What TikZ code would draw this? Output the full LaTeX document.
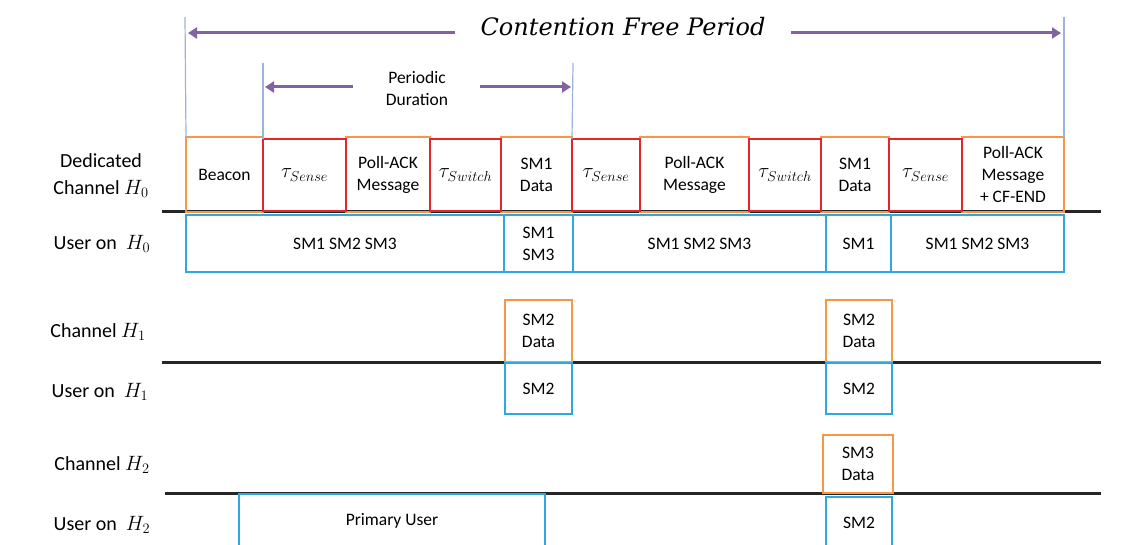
\documentclass[tikz,border=0pt]{standalone}
\usepackage{fontspec}
\setmainfont{Carlito}
\newfontfamily\cfpfont{DejaVu Serif}
\usepackage{tikz}
\usetikzlibrary{arrows.meta}
\definecolor{slotorange}{HTML}{F79646}
\definecolor{slotred}{HTML}{E3262B}
\definecolor{userblue}{HTML}{2EA8E0}
\definecolor{spanpurple}{HTML}{8064A2}
\definecolor{guideblue}{HTML}{9DB3DB}
\newcommand{\bxs}{\fontsize{17.5}{22}\selectfont}
\newcommand{\lbs}{\fontsize{20}{27}\selectfont}
\newcommand{\tas}{\fontsize{20}{24}\selectfont}
\newcommand{\cfs}{\cfpfont\itshape\fontsize{24}{28}\selectfont}

\begin{document}
\begin{tikzpicture}[x=1pt, y=-1pt, inner sep=0pt, outer sep=0pt,
    span/.style={spanpurple, line width=3pt, -{Triangle[length=9pt, width=11pt]}},
    axis/.style={line width=3pt, black!85}]
    \path[use as bounding box, clip] (0,0) rectangle (1138,545);

    \foreach \y/\a/\b in {212/162/1101, 362/162/1101, 493/165/1101} {
      \coordinate (L\y) at (\a,\y);
      \coordinate (R\y) at (\b,\y);
      \draw[axis] (L\y) -- (R\y);
    }

    \foreach \n/\a/\b/\t in {bc/186/263/Beacon, pa/346/430/{Poll-ACK\\Message},
                             da/501/572/{SM1\\Data}, pb/640/749/{Poll-ACK\\Message},
                             db/821/889/{SM1\\Data}, pe/962/1064/{Poll-ACK\\Message\\+ CF-END}} {
      \node[draw=slotorange, line width=2pt, minimum width={\b-\a}, minimum height=75,
            align=center, font=\bxs] (\n) at ({(\a+\b)/2},174.5) {\t};
    }
    \foreach \n/\a/\b/\t in {sa/263/346/Sense, wa/430/501/Switch, sb/572/640/Sense,
                             wb/749/821/Switch, sc/889/962/Sense} {
      \node[draw=slotred, line width=2.6pt, minimum width={\b-\a}, minimum height=72,
            font=\tas] (\n) at ({(\a+\b)/2},175) {$\tau_{\t}$};
    }
    \foreach \n/\a/\b/\t in {ua/186/504/SM1 SM2 SM3, ub/504/573/{SM1\\SM3},
                             uc/573/826/SM1 SM2 SM3, ud/826/891/SM1, ue/891/1064/SM1 SM2 SM3} {
      \node[draw=userblue, line width=2pt, minimum width={\b-\a}, minimum height=57,
            align=center, font=\bxs] (\n) at ({(\a+\b)/2},243.5) {\t};
    }

    \node[draw=slotorange, line width=2pt, minimum width=67, minimum height=62,
          align=center, font=\bxs] (ca) at (538.5,331) {SM2\\Data};
    \node[draw=slotorange, line width=2pt, minimum width=66, minimum height=62,
          align=center, font=\bxs] (cb) at (859,331) {SM2\\Data};
    \node[draw=userblue, line width=2pt, minimum width=67, minimum height=51,
          font=\bxs] (va) at (538.5,388.5) {SM2};
    \node[draw=userblue, line width=2pt, minimum width=66, minimum height=51,
          font=\bxs] (vb) at (859,388.5) {SM2};
    \node[draw=slotorange, line width=2pt, minimum width=70, minimum height=58,
          align=center, font=\bxs] (cc) at (858,464) {SM3\\Data};
    \node[draw=userblue, line width=2pt, minimum width=306, minimum height=66,
          font=\bxs] (pu) at (392,527) {};
    \node[font=\bxs] at (392,521) {Primary User};
    \node[draw=userblue, line width=2pt, minimum width=66, minimum height=66,
          font=\bxs] (vc) at (859,530) {};
    \node[font=\bxs] at (859,523) {SM2};

    \node[font=\lbs, align=center] (dc) at (101,176) {Dedicated\\Channel $H_0$};
    \node[font=\lbs] (u0) at (102,244) {User on \ $H_0$};
    \node[font=\lbs] (c1) at (98,332) {Channel $H_1$};
    \node[font=\lbs] (u1) at (100,392) {User on \ $H_1$};
    \node[font=\lbs] (c2) at (102,465) {Channel $H_2$};
    \node[font=\lbs] (u2) at (102,525) {User on \ $H_2$};

    \coordinate (ga) at (185,17);
    \coordinate (gb) at (1064,17);
    \coordinate (gc) at (263,63);
    \coordinate (gd) at (573,63);
    \draw[guideblue, line width=1.2pt] (ga) -- (bc.north west);
    \draw[guideblue, line width=1.2pt] (gb) -- (pe.north east);
    \draw[guideblue, line width=1.2pt] (gc) -- (sa.north west);
    \draw[guideblue, line width=1.2pt] (gd) -- (sb.north west);

    \node[font=\cfs] (cfp) at (623,27) {Contention Free Period};
    \coordinate (cl) at (188,33);
    \coordinate (cr) at (1061,33);
    \draw[span] ([xshift=-26pt]cfp.west |- cl) -- (cl);
    \draw[span] ([xshift=26pt]cfp.east |- cr) -- (cr);

    \node[font=\bxs, align=center] (pd) at (417,88) {Periodic\\Duration};
    \coordinate (pl) at (265,87);
    \coordinate (pr) at (571,87);
    \draw[span] ([xshift=-33pt]pd.west |- pl) -- (pl);
    \draw[span] ([xshift=32pt]pd.east |- pr) -- (pr);
  \end{tikzpicture}
\end{document}
